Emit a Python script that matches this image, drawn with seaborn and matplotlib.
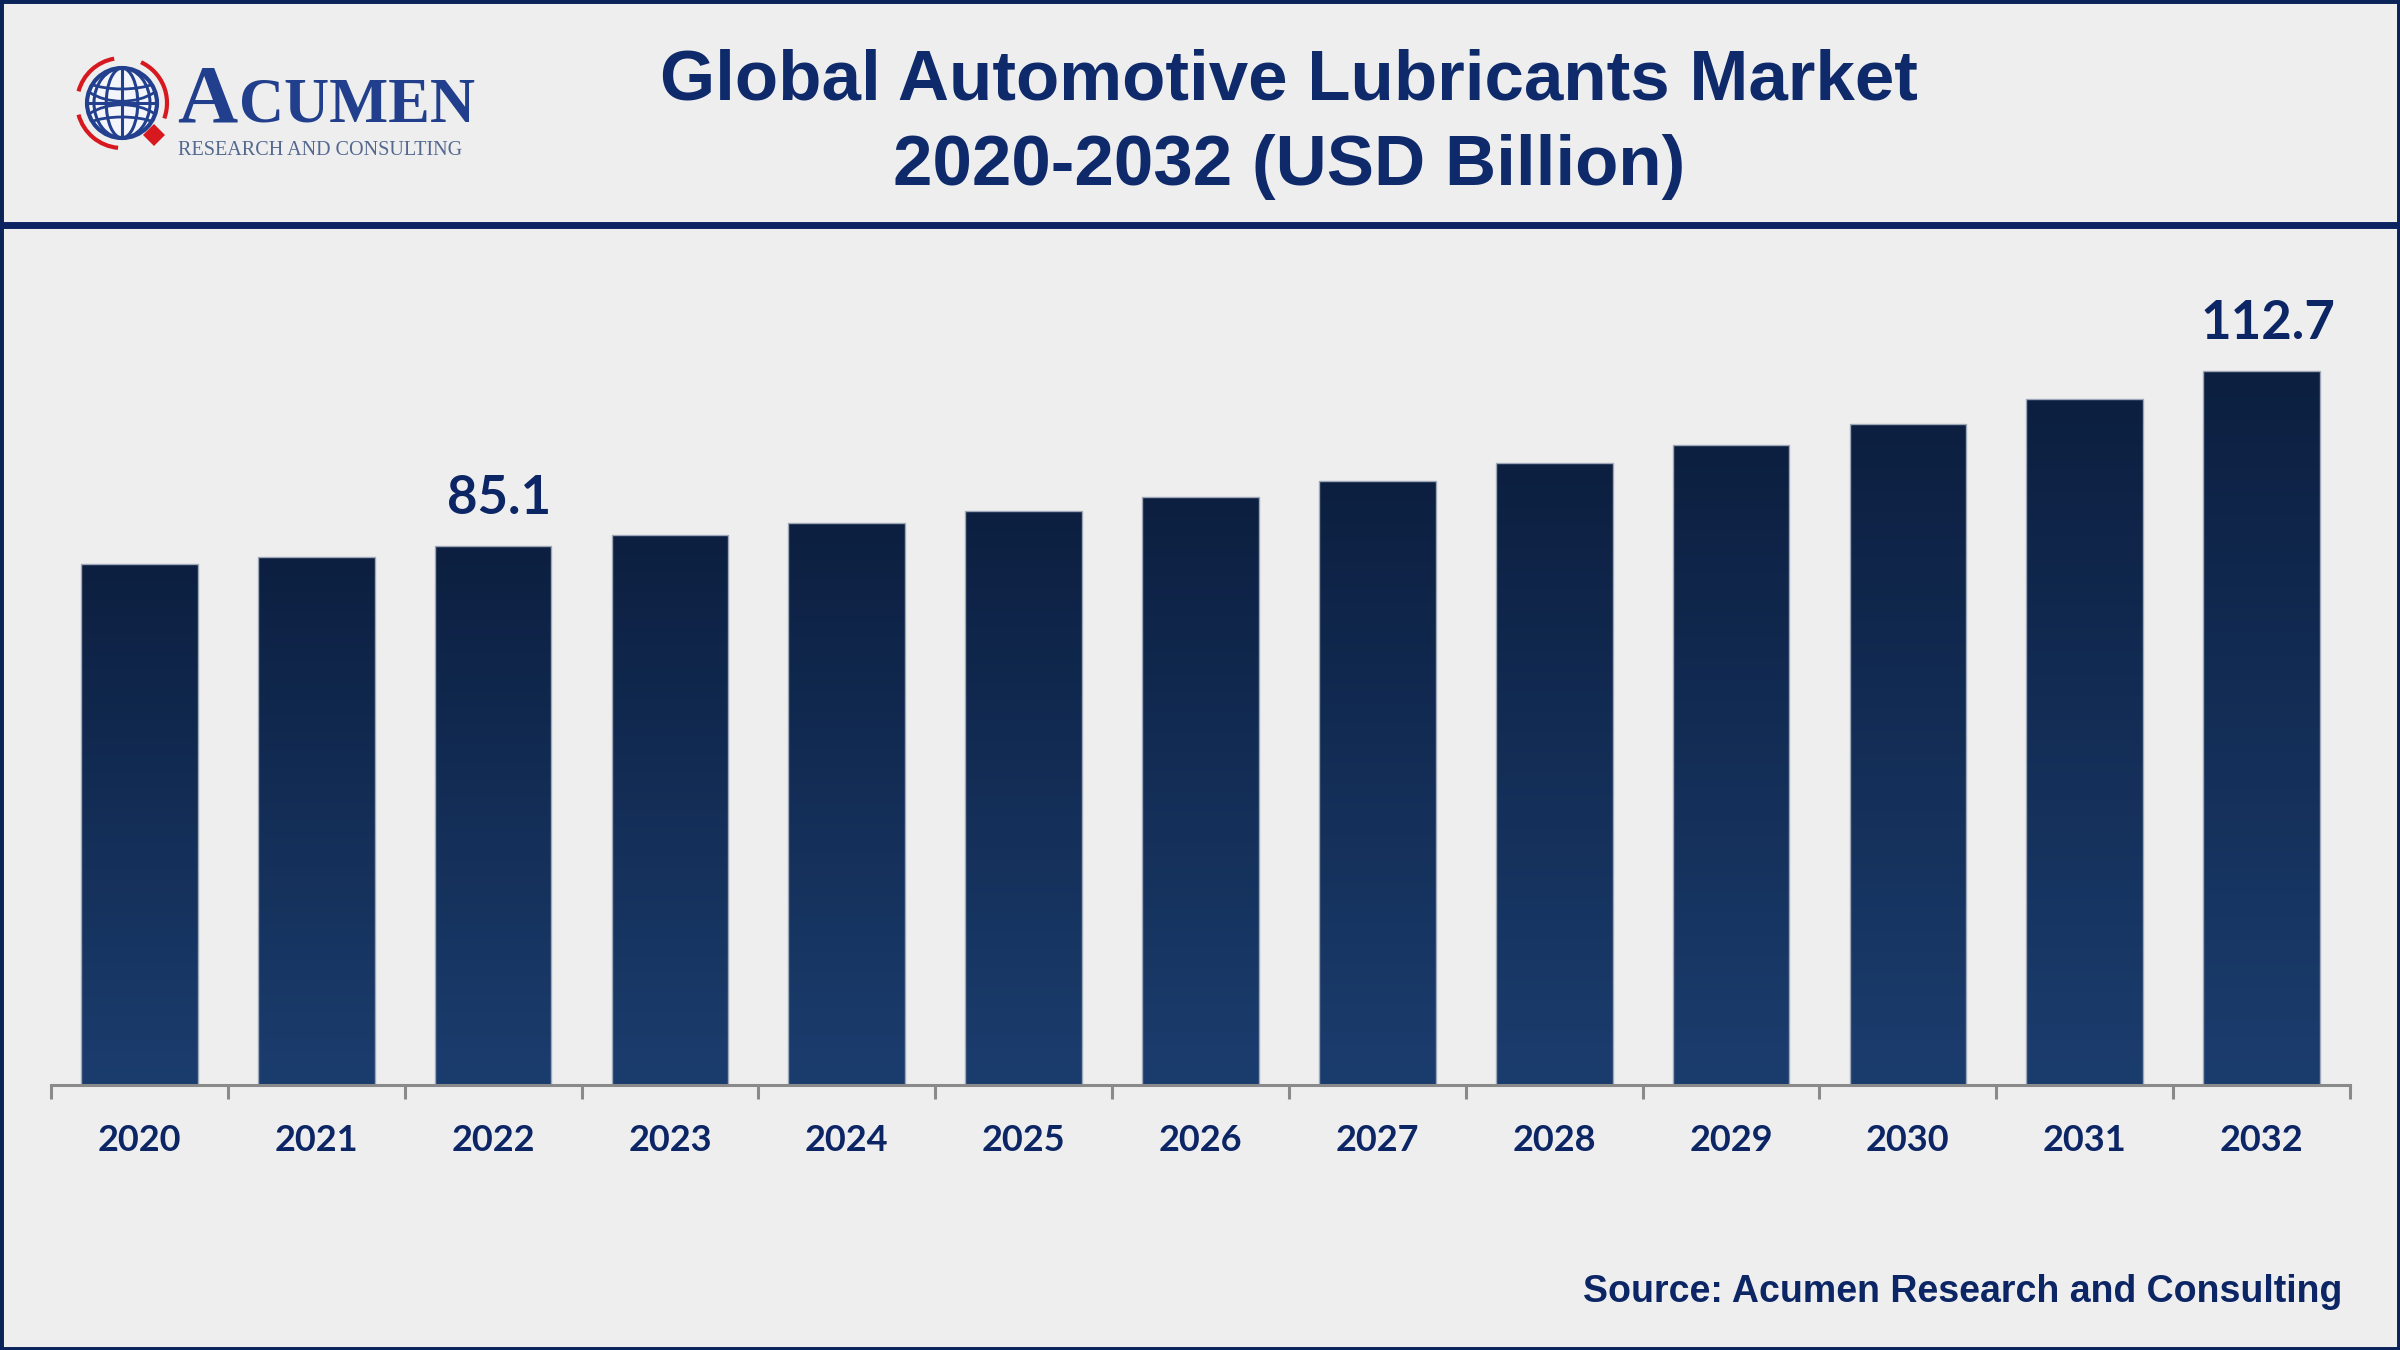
import numpy as np
import pandas as pd
import matplotlib
matplotlib.use("Agg")
import matplotlib.pyplot as plt
import seaborn as sns
from matplotlib.patches import Rectangle, Circle, Ellipse, Arc, Polygon
from matplotlib.lines import Line2D
from matplotlib.colors import LinearSegmentedColormap
from matplotlib import font_manager

# ---------------- data ----------------
years = ["2020", "2021", "2022", "2023", "2024", "2025", "2026",
         "2027", "2028", "2029", "2030", "2031", "2032"]
values = [82.2, 83.4, 85.1, 86.8, 88.7, 90.7, 92.8, 95.3, 98.2, 101.1, 104.4, 108.3, 112.7]
label_years = ["2022", "2032"]
label_texts = ["85.1", "112.7"]
title_line1 = "Global Automotive Lubricants Market"
title_line2 = "2020-2032 (USD Billion)"
source_text = "Source: Acumen Research and Consulting"

# ---------------- style ----------------
BG = "#eeeeee"
NAVY = "#0c2565"
TITLE_C = "#0f2a6b"
TOP_C = "#0c1f40"
BOT_C = "#1b3d6e"
AXIS_C = "#8a8a8a"

sns.set_theme(style="white")
plt.rcParams["font.family"] = ["Liberation Sans", "DejaVu Sans"]

W, H = 2400, 1350
fig = plt.figure(figsize=(24, 13.5), dpi=100, facecolor=BG)

def fx(x):
    return x / W

def fy(y):
    return 1 - y / H

# ---------------- main axes ----------------
px_per_unit = 6.333
ax_top, ax_bot = 240, 1085
ax = fig.add_axes([fx(51), fy(ax_bot), (2350 - 51) / W, (ax_bot - ax_top) / H])
ax.set_facecolor(BG)

df = pd.DataFrame({"year": years, "value": values})
sns.barplot(data=df, x="year", y="value", color=BOT_C, width=0.66,
            saturation=1, edgecolor="#9ea7b8", linewidth=1.0, ax=ax)

cmap = LinearSegmentedColormap.from_list("bar", [TOP_C, BOT_C])
grad = np.linspace(0, 1, 256).reshape(-1, 1)
for p in ax.patches:
    x0, y0 = p.get_x(), p.get_y()
    w, h = p.get_width(), p.get_height()
    im = ax.imshow(grad, cmap=cmap, extent=[x0, x0 + w, y0, y0 + h],
                   origin="upper", aspect="auto", zorder=0.9)
    im.set_clip_path(p)
    p.set_facecolor("none")
    p.set_zorder(1.0)

ax.set_xlim(-0.5, len(years) - 0.5)
ax.set_ylim(0, (ax_bot - ax_top) / px_per_unit)
ax.set_xlabel("")
ax.set_ylabel("")
ax.set_yticks([])
for s in ["top", "left", "right"]:
    ax.spines[s].set_visible(False)
ax.spines["bottom"].set_color(AXIS_C)
ax.spines["bottom"].set_linewidth(2.2)

ax.set_xticks(np.arange(-0.5, len(years), 1.0), minor=True)
ax.tick_params(axis="x", which="major", bottom=True, length=0, pad=28,
               labelsize=26, labelcolor=NAVY)
ax.tick_params(axis="x", which="minor", bottom=True, length=10, width=2.2,
               color=AXIS_C, direction="out")
for lbl in ax.get_xticklabels():
    lbl.set_fontfamily("Lato")
    lbl.set_fontweight("bold")

for yr, txt in zip(label_years, label_texts):
    i = years.index(yr)
    ax.text(i + 0.035, values[i] + 5.1, txt, ha="center", va="baseline",
            fontsize=38, fontfamily="Lato", fontweight="bold", color=NAVY)

# ---------------- title & source ----------------
fig.text(fx(1289), fy(99), title_line1, ha="center", va="baseline",
         fontsize=51, fontweight="bold", color=TITLE_C, family="Liberation Sans")
fig.text(fx(1289), fy(185), title_line2, ha="center", va="baseline",
         fontsize=51, fontweight="bold", color=TITLE_C, family="Liberation Sans")

names = {f.name for f in font_manager.fontManager.ttflist}
if "Liberation Sans Narrow" in names:
    src_fam, src_size = "Liberation Sans Narrow", 30
else:
    src_fam, src_size = "Liberation Sans", 27
fig.text(fx(2342), fy(1302), source_text, ha="right", va="baseline",
         fontsize=src_size, fontweight="bold", color=NAVY, family=src_fam)

# ---------------- frame & header line ----------------
fig.add_artist(Rectangle((0, 0), 1, 1, transform=fig.transFigure, fill=False,
                         edgecolor="#0a2358", linewidth=5))
fig.add_artist(Line2D([0, 1], [fy(225), fy(225)], transform=fig.transFigure,
                      color="#0b2461", linewidth=5))

# ---------------- logo ----------------
lx0, lx1, ly0, ly1 = 60, 190, 40, 170
lax = fig.add_axes([fx(lx0), fy(ly1), (lx1 - lx0) / W, (ly1 - ly0) / H])
lax.set_xlim(lx0, lx1)
lax.set_ylim(H - ly1, H - ly0)
lax.axis("off")
cx, cy, r = 122, H - 103, 35
GB = "#22408e"
RED = "#d7191f"
globe = Circle((cx, cy), r, facecolor="#f3f5fa", edgecolor=GB, linewidth=3)
lax.add_patch(globe)
for wf in [0.0, 0.45, 0.8]:
    if wf == 0:
        lax.add_line(Line2D([cx, cx], [cy - r, cy + r], color=GB, linewidth=2.2))
    else:
        lax.add_patch(Ellipse((cx, cy), 2 * r * wf, 2 * r, fill=False,
                              edgecolor=GB, linewidth=2.2))
for hf in [0.0, 0.5, 0.85]:
    if hf == 0:
        lax.add_line(Line2D([cx - r, cx + r], [cy, cy], color=GB, linewidth=2.2))
    else:
        for sgn in [1, -1]:
            e = Ellipse((cx, cy + sgn * r * 0.9), 2 * r * 1.3, 2 * r * hf,
                        fill=False, edgecolor=GB, linewidth=2.0)
            lax.add_patch(e)
            e.set_clip_path(globe)
for t1, t2 in [(100, 165), (-20, 65), (195, 265)]:
    lax.add_patch(Arc((cx, cy), 2 * 45, 2 * 45, theta1=t1, theta2=t2,
                      color=RED, linewidth=3))
dx, dy = cx + 32, cy - 32
d = 11
lax.add_patch(Polygon([[dx, dy + d], [dx + d, dy], [dx, dy - d], [dx - d, dy]],
                      closed=True, facecolor=RED, edgecolor="none"))

LOGO_C = "#213f8c"
fig.text(fx(177), fy(121), "A", ha="left", va="baseline", fontsize=60,
         fontweight="bold", family="Liberation Serif", color=LOGO_C)
fig.text(fx(239), fy(121), "CUMEN", ha="left", va="baseline", fontsize=45,
         fontweight="bold", family="Liberation Serif", color=LOGO_C)
fig.text(fx(178), fy(155), "RESEARCH AND CONSULTING", ha="left", va="baseline",
         fontsize=14.5, family="Liberation Serif", color="#53678f")

fig.savefig("out.png", dpi=100, facecolor=BG)
